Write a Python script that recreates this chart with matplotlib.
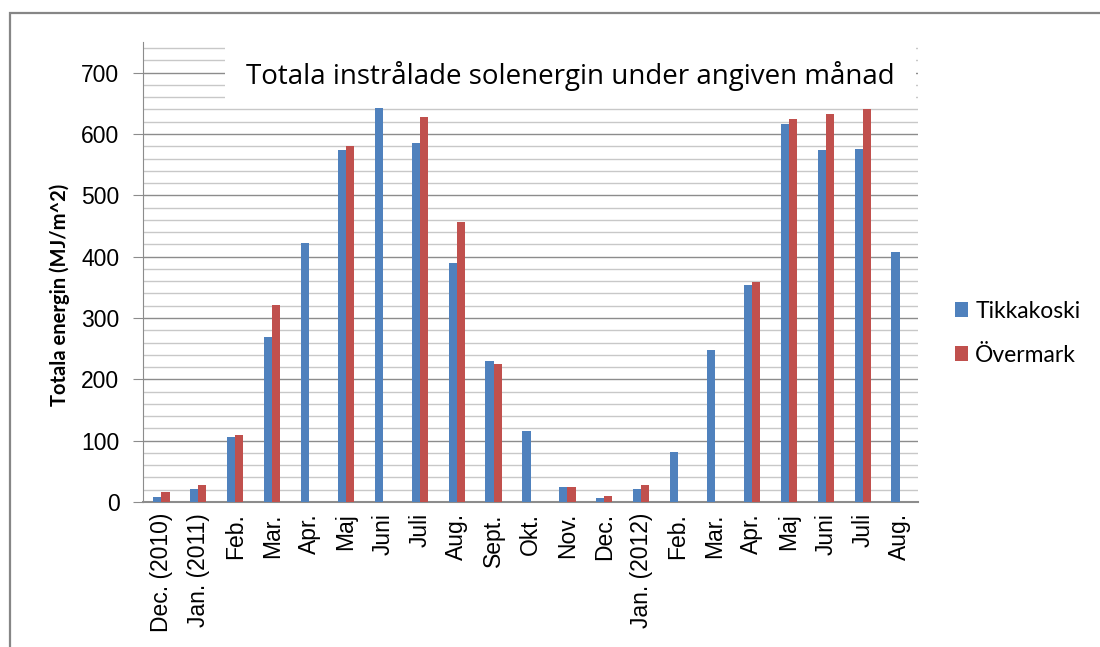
import numpy as np
import matplotlib
matplotlib.use("Agg")
import matplotlib.pyplot as plt
from matplotlib.patches import Rectangle
from matplotlib.ticker import MultipleLocator

months = ["Dec. (2010)", "Jan. (2011)", "Feb.", "Mar.", "Apr.", "Maj", "Juni", "Juli",
          "Aug.", "Sept.", "Okt.", "Nov.", "Dec.", "Jan. (2012)", "Feb.", "Mar.",
          "Apr.", "Maj", "Juni", "Juli", "Aug."]
tikkakoski = [8, 21, 106, 269, 423, 574, 643, 585, 390, 230, 116, 24, 6, 22, 81, 248,
              353, 617, 574, 576, 408]
overmark = [16, 27, 110, 321, np.nan, 581, np.nan, 628, 457, 225, np.nan, 24, 10, 28,
            np.nan, np.nan, 359, 624, 632, 641, np.nan]
series_names = ["Tikkakoski", "Övermark"]
title = "Totala instrålade solenergin under angiven månad"
ylabel = "Totala energin (MJ/m^2)"

blue = "#4F81BD"
red = "#C0504D"

fig = plt.figure(figsize=(11, 6.47), dpi=100)
ax = fig.add_axes([143/1100, 1-502/647, 775/1100, 460/647])

x = np.arange(len(months))
w = 0.22
ax.bar(x - w/2, tikkakoski, w, color=blue, label=series_names[0], zorder=3)
ax.bar(x + w/2, overmark, w, color=red, label=series_names[1], zorder=3)

ax.set_xlim(-0.5, len(months) - 0.5)
ax.set_ylim(0, 750)
ax.yaxis.set_major_locator(MultipleLocator(100))
ax.yaxis.set_minor_locator(MultipleLocator(20))
ax.set_yticks([0, 100, 200, 300, 400, 500, 600, 700])
ax.grid(axis="y", which="minor", color="#C8C8C8", lw=1.0, zorder=0)
ax.grid(axis="y", which="major", color="#8C8C8C", lw=1.0, zorder=0)
ax.set_axisbelow(True)

for s in ["top", "right"]:
    ax.spines[s].set_visible(False)
ax.spines["left"].set_color("#8C8C8C")
ax.spines["bottom"].set_color("#8C8C8C")
ax.spines["bottom"].set_linewidth(1.5)

ax.set_xticks(x)
ax.set_xticklabels(months, rotation=90, family="Liberation Sans", fontsize=16.5)
ax.tick_params(axis="x", length=0, pad=8)
ax.tick_params(axis="y", which="major", length=7, color="#8C8C8C", labelsize=16.5, pad=10)
ax.tick_params(axis="y", which="minor", length=0)
for lab in ax.get_yticklabels():
    lab.set_family("Liberation Sans")

ax.set_ylabel(ylabel, family="Lato", fontweight="bold", fontsize=14.5)
ax.yaxis.set_label_coords(-0.094, 0.45)

# title box hiding gridlines
ax.add_patch(Rectangle((0.106, 0.874), 0.891, 0.2, transform=ax.transAxes,
                       facecolor="white", edgecolor="none", zorder=1, clip_on=True))
ax.text(0.552, 0.926, title, transform=ax.transAxes, ha="center", va="center",
        family="Open Sans", fontsize=20, zorder=4)

leg = ax.legend(loc="center left", bbox_to_anchor=(0.849, 0.485),
                bbox_transform=fig.transFigure, frameon=False,
                prop={"family": "Lato", "size": 16.5}, handlelength=0.6,
                handleheight=0.6, handletextpad=0.3, labelspacing=1.0)

# chart area border
fig.add_artist(Rectangle((10/1100, -0.1), 1.2, 1.1 - 13/647, transform=fig.transFigure,
                         facecolor="none", edgecolor="#868686", lw=1.6))

fig.savefig("out.png", dpi=100)
